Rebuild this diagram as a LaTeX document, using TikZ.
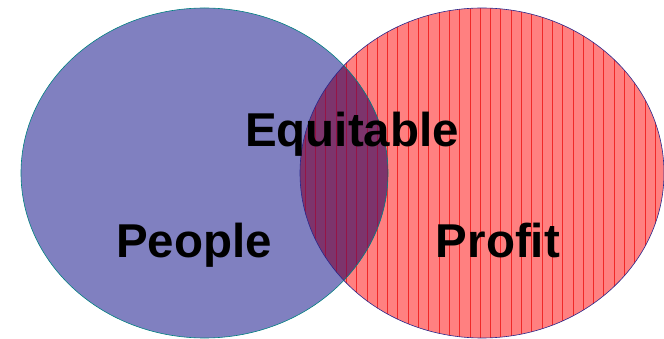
\documentclass[tikz,border=0pt]{standalone}
\usepackage{fontspec}
\setmainfont{Liberation Sans}
\definecolor{bluefill}{RGB}{128,128,192}
\definecolor{redfill}{RGB}{255,128,128}
\definecolor{overlapfill}{RGB}{125,52,108}
\definecolor{tealline}{RGB}{0,128,128}
\definecolor{navyline}{RGB}{40,40,140}
\definecolor{hatchred}{RGB}{240,40,40}
\definecolor{hatchdark}{RGB}{150,20,70}
\begin{document}
\begin{tikzpicture}[x=1pt,y=-1pt,
  label/.style={font=\fontsize{47.5}{52}\selectfont\bfseries, inner sep=0pt, anchor=base}]
\useasboundingbox (0,0) rectangle (664,339);
\def\leftell{(204.5,173) ellipse [x radius=183.5, y radius=165]}
\def\rightell{(482,173) ellipse [x radius=182, y radius=165]}
% right circle
\fill[redfill] \rightell;
\begin{scope}
  \clip \rightell;
  \foreach \x in {305,315.3,...,664} \draw[hatchred, line width=0.5pt] (\x,0) -- (\x,339);
\end{scope}
% left circle
\fill[bluefill] \leftell;
% overlap
\begin{scope}
  \clip \leftell;
  \fill[overlapfill] \rightell;
  \clip \rightell;
  \foreach \x in {305,315.3,...,664} \draw[hatchdark, line width=0.5pt] (\x,0) -- (\x,339);
\end{scope}
\draw[tealline, line width=0.6pt] \leftell;
\draw[navyline, line width=0.6pt] \rightell;
\node[label] (eq) at (352,147) {Equitable};
\node[label] (pe) at (194,258) {People};
\node[label] (pr) at (498,258) {Profit};
\end{tikzpicture}
\end{document}
